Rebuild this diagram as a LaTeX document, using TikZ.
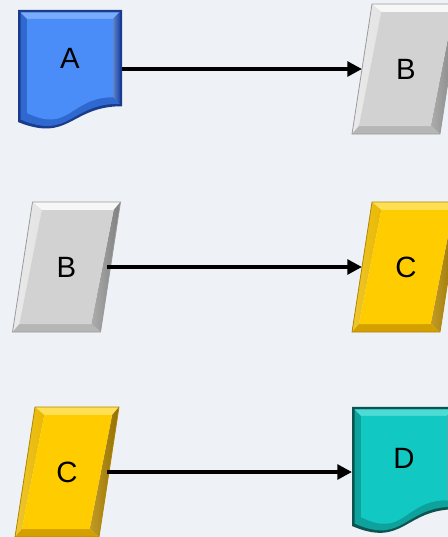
\documentclass[tikz,border=0pt]{standalone}
\usepackage{fontspec}
\setmainfont{Liberation Sans}
\usetikzlibrary{calc,arrows.meta}

\pgfdeclarelayer{canvas}
\pgfdeclarelayer{background}
\pgfsetlayers{canvas,background,main}

\definecolor{paper}{HTML}{EEF2F6}
% blue document
\definecolor{blueEdge}{HTML}{1A3C8C}
\definecolor{blueSide}{HTML}{2F68CF}
\definecolor{blueTop}{HTML}{7AACFF}
\definecolor{blueRight}{HTML}{1D4BAE}
\definecolor{blueFace}{HTML}{4A8DF8}
% teal document
\definecolor{tealEdge}{HTML}{0D5450}
\definecolor{tealSide}{HTML}{0EA29D}
\definecolor{tealTop}{HTML}{4EDBD5}
\definecolor{tealRight}{HTML}{0A8A85}
\definecolor{tealFace}{HTML}{12C8C2}
% grey slanted box
\definecolor{greyLine}{HTML}{9A9A9A}
\definecolor{greyTop}{HTML}{F7F7F7}
\definecolor{greyLeft}{HTML}{E4E4E4}
\definecolor{greyRight}{HTML}{9E9E9E}
\definecolor{greyBottom}{HTML}{B6B6B6}
\definecolor{greyFace}{HTML}{D2D2D2}
% gold slanted box
\definecolor{goldLine}{HTML}{B08600}
\definecolor{goldTop}{HTML}{FFE055}
\definecolor{goldLeft}{HTML}{E9B800}
\definecolor{goldRight}{HTML}{B88A00}
\definecolor{goldBottom}{HTML}{D4A000}
\definecolor{goldFace}{HTML}{FFCC00}

\tikzset{
  x=0.75pt, y=-0.75pt,
  shapelabel/.style={shape=rectangle, inner sep=0pt, outer sep=0pt,
    font=\fontsize{22}{26}\selectfont},
  slantbox/.style={shapelabel, minimum width=66pt, minimum height=97.5pt},
  narrowslant/.style={shapelabel, minimum width=63pt, minimum height=97.5pt},
  docbox/.style={shapelabel, minimum width=78pt},
  flow/.style={draw=black, line width=2.8pt,
    -{Triangle[length=11pt,width=11pt]}},
}

% Bevelled parallelogram drawn around a node; the node's left/right
% sides pass through the slanted edges at mid-height.
% #1 node, #2 outline, #3 top, #4 left, #5 right, #6 bottom, #7 face
\newcommand\bevelslant[7]{%
  \begin{pgfonlayer}{background}
    \coordinate (#1-a) at ($(#1.north west)+(10,0)$);
    \coordinate (#1-b) at ($(#1.north east)+(10,0)$);
    \coordinate (#1-c) at ($(#1.south east)+(-10,0)$);
    \coordinate (#1-d) at ($(#1.south west)+(-10,0)$);
    \coordinate (#1-ai) at ($(#1-a)+(9.3,8)$);
    \coordinate (#1-bi) at ($(#1-b)+(-6.9,8)$);
    \coordinate (#1-ci) at ($(#1-c)+(-9.3,-8)$);
    \coordinate (#1-di) at ($(#1-d)+(6.9,-8)$);
    \fill[#3] (#1-a) -- (#1-b) -- (#1-bi) -- (#1-ai) -- cycle;
    \shade[left color=#4!80!white, right color=#4] (#1-a) -- (#1-ai) -- (#1-di) -- (#1-d) -- cycle;
    \shade[left color=#5!85!white, right color=#5!80!black] (#1-b) -- (#1-c) -- (#1-ci) -- (#1-bi) -- cycle;
    \fill[#6] (#1-d) -- (#1-di) -- (#1-ci) -- (#1-c) -- cycle;
    \fill[#7] (#1-ai) -- (#1-bi) -- (#1-ci) -- (#1-di) -- cycle;
    \draw[#2, line width=0.6pt, line join=round] (#1-a) -- (#1-b) -- (#1-c) -- (#1-d) -- cycle;
  \end{pgfonlayer}}

% Document outline inset by #4; the node is the upper text area,
% #2 = lower control offset, #3 = drop of the left end (both in px).
\newcommand\docfill[5]{%
  \fill[#5] ($(#1.north west)+(#4,#4)$) -- ($(#1.north east)+(-#4,#4)$)
    -- ($(#1.south east)+(-#4,-#4)$)
    .. controls ($(#1.south)+(0,-#4)$) and ($(#1.south)+(0,#2-#4)$)
    .. ($(#1.south west)+(#4,#3-#4)$) -- cycle;}

% Bevelled document shape: #1 node, #2 ctrl, #3 drop,
% #4 edge, #5 side, #6 top, #7 right, #8 face
\newcommand\beveldoc[8]{%
  \begin{pgfonlayer}{background}
    \docfill{#1}{#2}{#3}{0}{#4}
    \docfill{#1}{#2}{#3}{2.5}{#5}
    \fill[#6] ($(#1.north west)+(2.5,2.5)$) -- ($(#1.north east)+(-2.5,2.5)$)
      -- ($(#1.north east)+(-9,9)$) -- ($(#1.north west)+(9,9)$) -- cycle;
    \shade[left color=#7!70!white, right color=#7] ($(#1.north east)+(-2.5,2.5)$)
      -- ($(#1.south east)+(-2.5,-2.5)$) -- ($(#1.south east)+(-9,-9)$)
      -- ($(#1.north east)+(-9,9)$) -- cycle;
    \docfill{#1}{#2}{#3}{9}{#8}
  \end{pgfonlayer}}

\begin{document}
\begin{tikzpicture}
  \useasboundingbox (0,0) rectangle (448,537);
  \begin{pgfonlayer}{canvas}
    \fill[paper] (0,0) rectangle (448,537);
  \end{pgfonlayer}

  % first row
  \node[docbox, minimum height=72.2pt] (A) at (70,58.1) {A};
  \node[slantbox] (B1) at (406,69) {B};
  % second row
  \node[slantbox] (B2) at (66.5,267) {B};
  \node[slantbox] (C2) at (406,267) {C};
  % third row
  \node[narrowslant] (C3) at (67,472) {C};
  \node[docbox, minimum height=76.7pt] (D) at (404,458.1) {D};

  \beveldoc{A}{36.7}{15.8}{blueEdge}{blueSide}{blueTop}{blueRight}{blueFace}
  \beveldoc{D}{38.9}{16.8}{tealEdge}{tealSide}{tealTop}{tealRight}{tealFace}
  \bevelslant{B1}{greyLine}{greyTop}{greyLeft}{greyRight}{greyBottom}{greyFace}
  \bevelslant{B2}{greyLine}{greyTop}{greyLeft}{greyRight}{greyBottom}{greyFace}
  \bevelslant{C2}{goldLine}{goldTop}{goldLeft}{goldRight}{goldBottom}{goldFace}
  \bevelslant{C3}{goldLine}{goldTop}{goldLeft}{goldRight}{goldBottom}{goldFace}

  \draw[flow] (A.east |- B1.west) -- (B1.west);
  \draw[flow, shorten <=-2.6pt] (B2.east) -- (C2.west);
  \draw[flow, shorten <=-1.5pt] (C3.east) -- (D.west |- C3.east);
\end{tikzpicture}
\end{document}
